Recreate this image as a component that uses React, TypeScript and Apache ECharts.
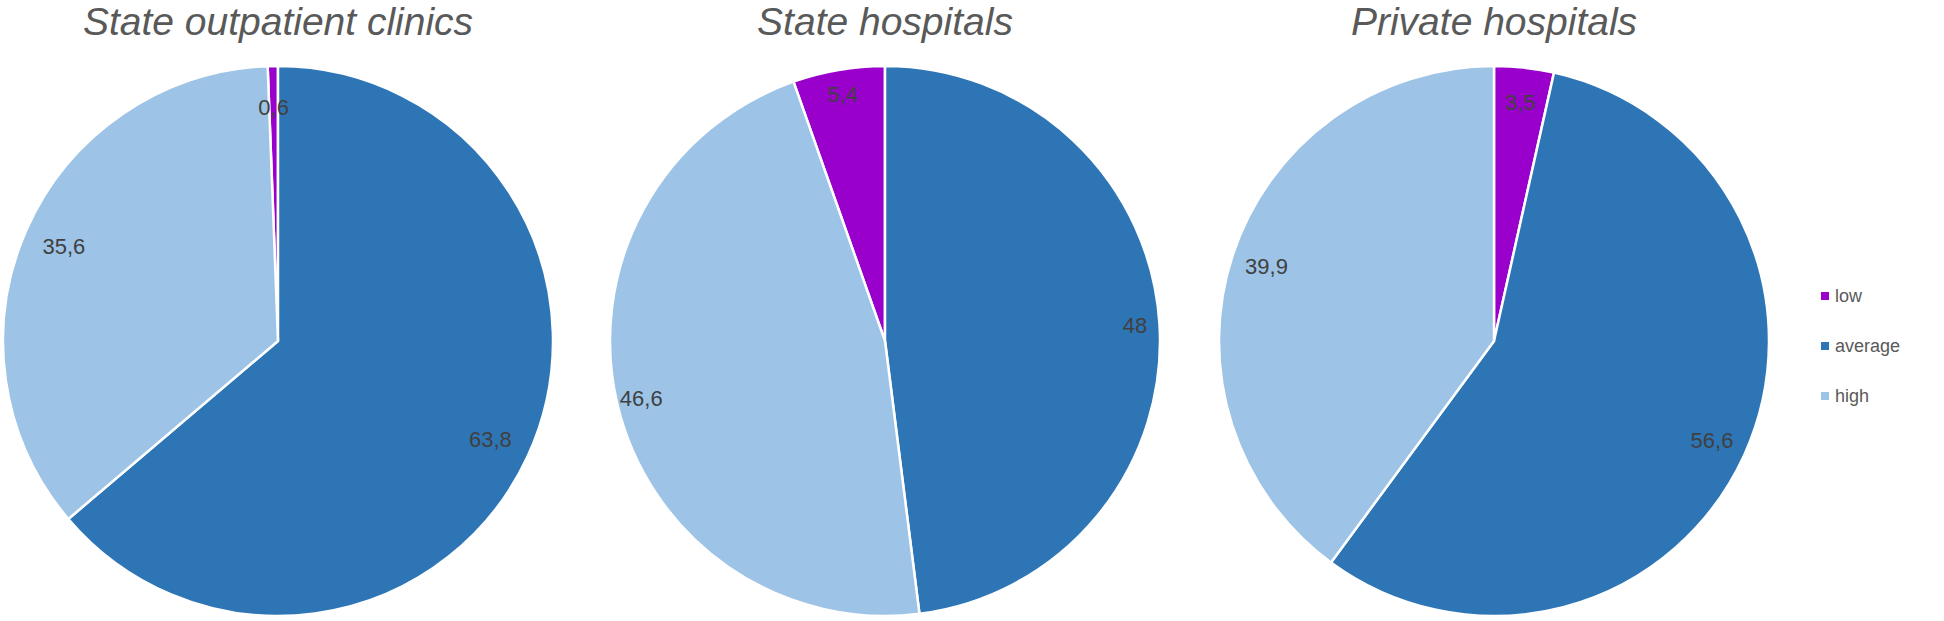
import React, { useEffect, useRef } from "react";
import * as echarts from "echarts";

const categories = ["low", "average", "high"];
const pieTitles = ["State outpatient clinics", "State hospitals", "Private hospitals"];
const outpatientValues = [0.6, 63.8, 35.6];
const stateHospitalValues = [5.4, 48, 46.6];
const privateHospitalValues = [3.5, 56.6, 39.9];
const colors = ["#9900CC", "#2E75B6", "#9DC3E6"];

const allValues = [outpatientValues, stateHospitalValues, privateHospitalValues];
const centersX = [278, 885, 1494];
const centerY = 341;
const R = 275;
const labelInner = [187, 220, 198];

function startAngleFor(idx: number, vals: number[]) {
  // pies 1 and 2 end the "low" slice at 12 o'clock, pie 3 starts it there
  if (idx === 2) return 90;
  const total = vals.reduce((a, b) => a + b, 0);
  return 90 + (vals[0] / total) * 360;
}

export default function App() {
  const ref = useRef<HTMLDivElement>(null);
  useEffect(() => {
    if (!ref.current) return;
    const chart = echarts.init(ref.current, undefined, { renderer: "svg" });
    const series: any[] = [];
    allValues.forEach((vals, i) => {
      const data = categories.map((c, k) => ({ name: c, value: vals[k] }));
      const sa = startAngleFor(i, vals);
      series.push({
        type: "pie",
        center: [centersX[i], centerY],
        radius: [0, R],
        startAngle: sa,
        clockwise: true,
        data: data.map((d, k) => ({ ...d, itemStyle: { color: colors[k] } })),
        itemStyle: { borderColor: "#ffffff", borderWidth: 2.5 },
        label: { show: false },
        labelLine: { show: false },
        silent: true,
      });
      series.push({
        type: "pie",
        center: [centersX[i], centerY],
        radius: [labelInner[i], R],
        startAngle: sa,
        clockwise: true,
        data,
        itemStyle: { color: "rgba(0,0,0,0)", borderWidth: 0 },
        label: {
          show: true,
          position: "inner",
          fontFamily: "Liberation Sans, Arial, sans-serif",
          fontSize: 22,
          color: "#404040",
          formatter: (p: any) => String(p.value).replace(".", ","),
        },
        labelLine: { show: false },
        silent: true,
      });
    });
    chart.setOption({
      animation: false,
      backgroundColor: "#ffffff",
      title: pieTitles.map((t, i) => ({
        text: t,
        left: centersX[i],
        top: 2,
        textAlign: "center",
        padding: 0,
        textStyle: {
          fontFamily: "Liberation Sans, Arial, sans-serif",
          fontStyle: "italic",
          fontWeight: "normal",
          fontSize: 39,
          color: "#595959",
        },
      })),
      legend: {
        orient: "vertical",
        left: 1814,
        top: 281,
        itemWidth: 10,
        itemHeight: 10,
        itemGap: 30,
        icon: "rect",
        selectedMode: false,
        data: categories.map((c, k) => ({ name: c, itemStyle: { color: colors[k] } })),
        textStyle: {
          fontFamily: "Liberation Sans, Arial, sans-serif",
          fontSize: 18,
          lineHeight: 20,
          color: "#595959",
        },
      },
      series,
    });
    return () => chart.dispose();
  }, []);
  return (
    <div
      ref={ref}
      style={{ position: "fixed", left: 0, top: 0, width: 1944, height: 621 }}
    />
  );
}
